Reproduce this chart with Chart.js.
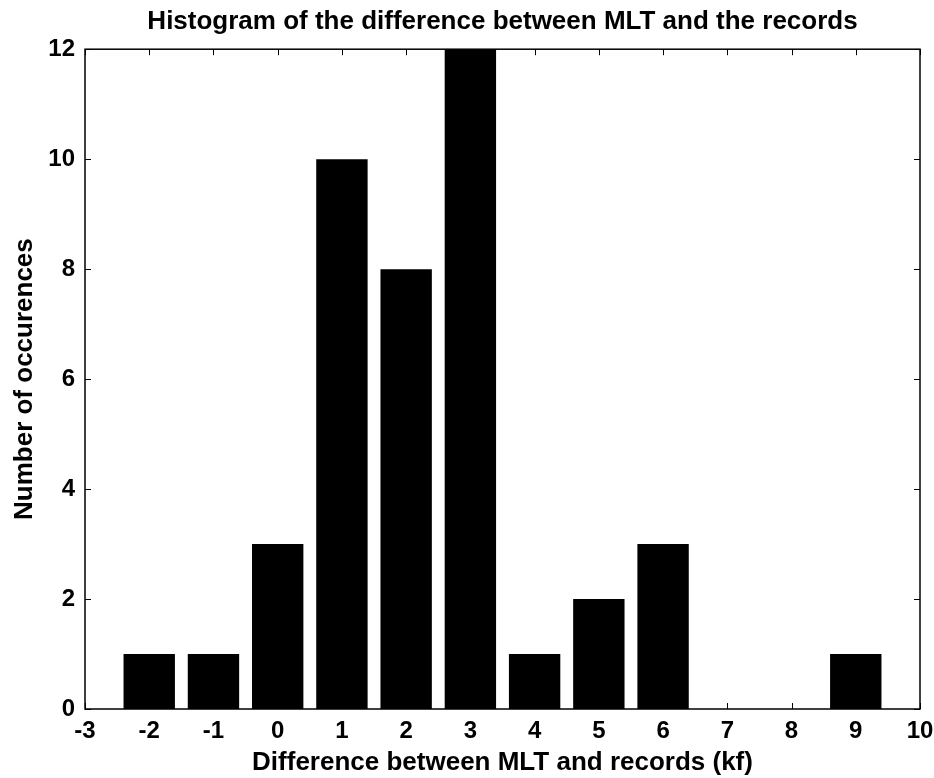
<!DOCTYPE html>
<html>
<head>
<meta charset="utf-8">
<script src="https://cdn.jsdelivr.net/npm/chart.js@4.4.1/dist/chart.umd.min.js"></script>
<style>
  html, body { margin: 0; padding: 0; background: #fff; }
  #wrap { width: 934px; height: 778px; }
</style>
</head>
<body>
<div id="wrap"><canvas id="c" width="934" height="778"></canvas></div>
<script>
// Bin centres (kf) and the number of occurrences in each bin
const binCenters = [-2, -1, 0, 1, 2, 3, 4, 5, 6, 7, 8, 9];
const occurrences = [1, 1, 3, 10, 8, 12, 1, 2, 3, 0, 0, 1];
const xTicks = [-3, -2, -1, 0, 1, 2, 3, 4, 5, 6, 7, 8, 9, 10];
const yTicks = [0, 2, 4, 6, 8, 10, 12];

const FONT = '"Liberation Sans", Arial, sans-serif';

// Box around the plot area with short inward tick marks on all four sides
const boxTicks = {
  id: 'boxTicks',
  afterDatasetsDraw(chart) {
    const { ctx, chartArea: a, scales } = chart;
    const len = 6;
    ctx.save();
    ctx.strokeStyle = '#000';
    ctx.lineWidth = 1;
    ctx.beginPath();
    scales.x.ticks.forEach(t => {
      const px = Math.round(scales.x.getPixelForValue(t.value)) + 0.5;
      ctx.moveTo(px, a.bottom); ctx.lineTo(px, a.bottom - len);
      ctx.moveTo(px, a.top); ctx.lineTo(px, a.top + len);
    });
    scales.y.ticks.forEach(t => {
      const py = Math.round(scales.y.getPixelForValue(t.value)) + 0.5;
      ctx.moveTo(a.left, py); ctx.lineTo(a.left + len, py);
      ctx.moveTo(a.right, py); ctx.lineTo(a.right - len, py);
    });
    ctx.stroke();
    ctx.lineWidth = 1.5;
    ctx.strokeRect(a.left, a.top, a.right - a.left, a.bottom - a.top);
    ctx.restore();
  }
};

new Chart(document.getElementById('c'), {
  type: 'bar',
  data: {
    datasets: [{
      data: binCenters.map((x, i) => ({ x: x, y: occurrences[i] })),
      backgroundColor: '#000',
      borderColor: '#000',
      borderWidth: 0,
      barPercentage: 0.8,
      categoryPercentage: 1.0
    }]
  },
  options: {
    responsive: false,
    animation: false,
    devicePixelRatio: 1,
    layout: { padding: { top: 0, right: 14, left: 0, bottom: 0 } },
    plugins: {
      legend: { display: false },
      tooltip: { enabled: false },
      title: {
        display: true,
        fullSize: false,
        text: 'Histogram of the difference between MLT and the records',
        color: '#000',
        font: { family: FONT, size: 26, weight: 'bold' },
        padding: { top: 6, bottom: 12 }
      }
    },
    scales: {
      x: {
        type: 'linear',
        min: -3,
        max: 10,
        offset: false,
        afterBuildTicks: s => { s.ticks = xTicks.map(v => ({ value: v })); },
        afterFit: s => { s.height = 69; s.paddingRight = 0; s.paddingLeft = 0; },
        ticks: {
          color: '#000',
          padding: 8,
          maxRotation: 0,
          autoSkip: false,
          font: { family: FONT, size: 24, weight: 'bold' }
        },
        grid: { display: false, drawTicks: false },
        border: { display: false },
        title: {
          display: true,
          text: 'Difference between MLT and records (kf)',
          color: '#000',
          font: { family: FONT, size: 26, weight: 'bold' },
          padding: { top: 0, bottom: 0 }
        }
      },
      y: {
        min: 0,
        max: 12,
        afterBuildTicks: s => { s.ticks = yTicks.map(v => ({ value: v })); },
        afterFit: s => { s.width = 85; },
        ticks: {
          color: '#000',
          padding: 10,
          font: { family: FONT, size: 24, weight: 'bold' }
        },
        grid: { display: false, drawTicks: false },
        border: { display: false },
        title: {
          display: true,
          text: 'Number of occurences',
          color: '#000',
          font: { family: FONT, size: 26, weight: 'bold' },
          padding: { top: 9, bottom: 0 }
        }
      }
    }
  },
  plugins: [boxTicks]
});
</script>
</body>
</html>
